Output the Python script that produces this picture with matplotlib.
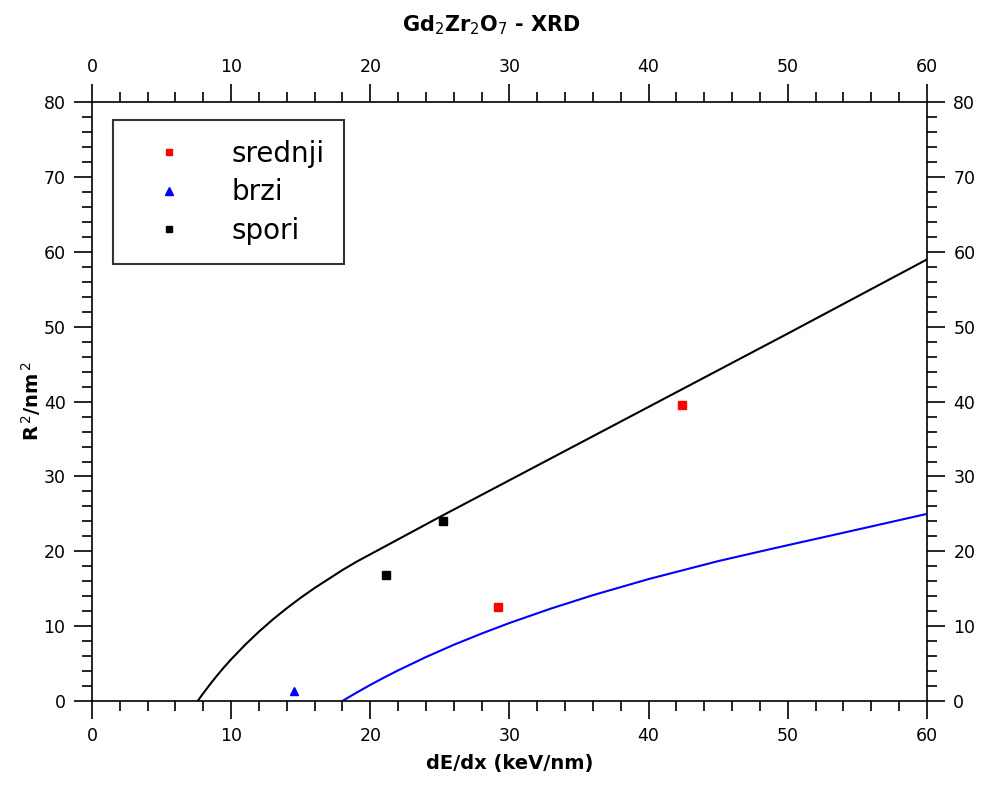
import matplotlib.pyplot as plt
from matplotlib.ticker import MultipleLocator

# measured points
srednji_x = [29.2, 42.4]
srednji_y = [12.5, 39.5]
brzi_x = [14.5]
brzi_y = [1.3]
spori_x = [21.1, 25.2]
spori_y = [16.8, 24.0]

# fit curves
black_x = [7.6, 7.8, 8, 8.5, 9, 9.5, 10, 11, 12, 13, 14, 15, 16, 17, 18, 19, 20, 20.7, 25, 30, 40, 50, 60]
black_y = [0, 0.53, 1.04, 2.27, 3.43, 4.53, 5.57, 7.50, 9.27, 10.9, 12.4, 13.8, 15.1, 16.3, 17.5, 18.6, 19.6, 20.3, 24.6, 29.5, 39.3, 49.1, 59.0]
blue_x = [18, 18.5, 19, 20, 21, 22, 24, 26, 28, 30, 33, 36, 40, 45, 49, 55, 60]
blue_y = [0, 0.56, 1.10, 2.15, 3.14, 4.09, 5.87, 7.51, 9.01, 10.42, 12.36, 14.14, 16.29, 18.69, 20.4, 22.9, 25.0]

plt.rcParams['font.family'] = ['DejaVu Sans']
fig = plt.figure(figsize=(9.84, 7.87), dpi=100)
ax = fig.add_axes([0.0935, 0.1093, 0.8485, 0.7607])

ax.plot(black_x, black_y, color='black', linewidth=1.5)
ax.plot(blue_x, blue_y, color='blue', linewidth=1.5)
ax.plot(srednji_x, srednji_y, 's', color='red', markersize=5.5, label='srednji')
ax.plot(brzi_x, brzi_y, '^', color='blue', markersize=6, label='brzi')
ax.plot(spori_x, spori_y, 's', color='black', markersize=5.5, label='spori')

ax.set_xlim(0, 60)
ax.set_ylim(0, 80)
ax.xaxis.set_major_locator(MultipleLocator(10))
ax.xaxis.set_minor_locator(MultipleLocator(2))
ax.yaxis.set_major_locator(MultipleLocator(10))
ax.yaxis.set_minor_locator(MultipleLocator(2))
ax.tick_params(which='both', direction='out', top=True, right=True,
               labeltop=True, labelright=True, labelsize=12.5, width=1.2, pad=6)
ax.tick_params(which='major', length=13)
ax.tick_params(which='minor', length=7.5)
for s in ax.spines.values():
    s.set_linewidth(1.2)

ax.set_xlabel('dE/dx (keV/nm)', fontsize=14, fontweight='bold', labelpad=6)
ax.set_ylabel(r'R$^{\,2}$/nm$^{\,2}$', fontsize=14, fontweight='bold', labelpad=0)
fig.text(0.5, 0.968, r'Gd$_2$Zr$_2$O$_7$ - XRD', ha='center', va='center',
         fontsize=15, fontweight='bold')

leg = ax.legend(loc='upper left', bbox_to_anchor=(0.025, 0.970), fontsize=20,
                frameon=True, fancybox=False, edgecolor='black', handletextpad=0.9,
                borderpad=0.7, labelspacing=0.38, handlelength=2.66, borderaxespad=0,
                markerscale=0.85)
leg.get_frame().set_linewidth(1.5)

fig.savefig('out.png', dpi=100)
